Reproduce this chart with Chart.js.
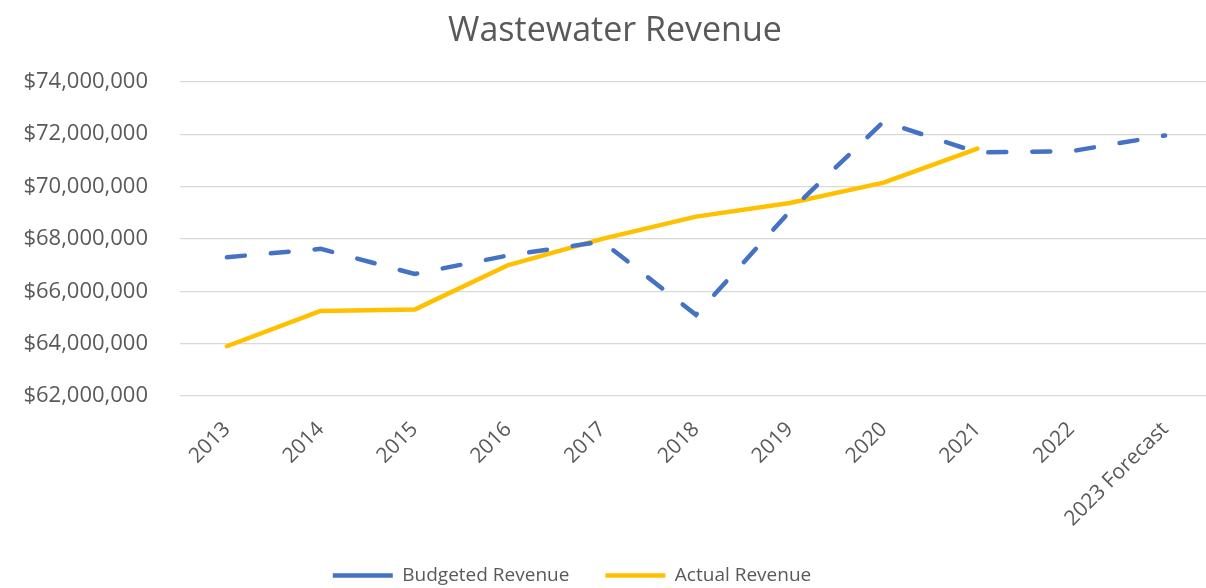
<!DOCTYPE html>
<html lang="en">

<head>
  <meta charset="UTF-8" />
  <title>Wastewater Revenue</title>
  <style>
    * {
      margin: 0;
      padding: 0;
    }

    body {
      width: 1206px;
      height: 588px;
      overflow: hidden;
      background: #ffffff;
    }

    .chartBox {
      width: 1212px;
      height: 595px;
    }
  </style>
</head>

<body>
  <div class="chartBox">
    <canvas id="myChart"></canvas>
  </div>
  <script src="https://cdn.jsdelivr.net/npm/chart.js@4/dist/chart.umd.min.js"></script>
  <script>
    const years = ["2013", "2014", "2015", "2016", "2017", "2018", "2019", "2020", "2021", "2022", "2023 Forecast"];

    const budgeted = [
      67300000, 67620000, 66660000, 67370000, 67900000, 65100000,
      69050000, 72480000, 71300000, 71350000, 71950000
    ];

    const actual = [
      63900000, 65250000, 65300000, 67000000, 68000000, 68850000,
      69370000, 70150000, 71450000, null, null
    ];

    const yMin = 62000000;
    const yMax = 74000000;
    const yStep = 2000000;

    const grey = "#595959";
    Chart.defaults.font.family = "'Open Sans', sans-serif";
    Chart.defaults.color = grey;

    // excel puts the legend a bit left of centre and the title a bit right
    const nudgeBoxes = {
      id: "nudgeBoxes",
      afterLayout(chart) {
        chart.legend.left -= 34;
        chart.legend.right -= 34;
        chart.titleBlock.left += 9;
        chart.titleBlock.right += 9;
      }
    };

    const data = {
      labels: years,
      datasets: [
        {
          label: "Budgeted Revenue",
          data: budgeted,
          borderColor: "#4472C4",
          backgroundColor: "#4472C4",
          borderWidth: 4.5,
          borderDash: [18, 26],
          borderCapStyle: "round",
          pointRadius: 0,
          tension: 0
        },
        {
          label: "Actual Revenue",
          data: actual,
          borderColor: "#FFC000",
          backgroundColor: "#FFC000",
          borderWidth: 4.5,
          borderCapStyle: "round",
          borderJoinStyle: "round",
          pointRadius: 0,
          tension: 0
        }
      ]
    };

    const options = {
      responsive: true,
      maintainAspectRatio: false,
      animation: false,
      layout: {
        padding: { left: 0, right: 0, top: 0, bottom: 0 }
      },
      scales: {
        x: {
          offset: true,
          grid: { display: false },
          border: { display: false },
          ticks: {
            autoSkip: false,
            maxRotation: 45,
            minRotation: 45,
            padding: 13,
            color: grey,
            font: { size: 21 }
          },
          afterFit: function (scale) {
            scale.height = 134;
          }
        },
        y: {
          min: yMin,
          max: yMax,
          grid: {
            color: "#D9D9D9",
            lineWidth: 1.2,
            drawTicks: false
          },
          border: { display: false },
          ticks: {
            stepSize: yStep,
            padding: 32,
            color: grey,
            font: { size: 22 },
            callback: function (value) {
              return "$" + Number(value).toLocaleString("en-US");
            }
          },
          afterFit: function (scale) {
            scale.width = 180;
          }
        }
      },
      plugins: {
        title: {
          display: true,
          text: "Wastewater Revenue",
          color: grey,
          font: { size: 34, weight: "normal" },
          padding: { top: 11, bottom: 30 }
        },
        legend: {
          position: "bottom",
          labels: {
            usePointStyle: true,
            pointStyle: "line",
            pointStyleWidth: 60,
            padding: 36,
            color: grey,
            font: { size: 19 },
            generateLabels: function (chart) {
              const items = Chart.defaults.plugins.legend.labels.generateLabels(chart);
              items.forEach(function (item) {
                if (item.lineDash && item.lineDash.length) {
                  item.lineDash = [17, 21];
                }
                item.pointStyle = "line";
              });
              return items;
            }
          }
        },
        tooltip: { enabled: false }
      }
    };

    const config = {
      type: "line",
      data: data,
      options: options,
      plugins: [nudgeBoxes]
    };

    const ctx = document.getElementById("myChart").getContext("2d");
    const myChart = new Chart(ctx, config);
  </script>
</body>

</html>
